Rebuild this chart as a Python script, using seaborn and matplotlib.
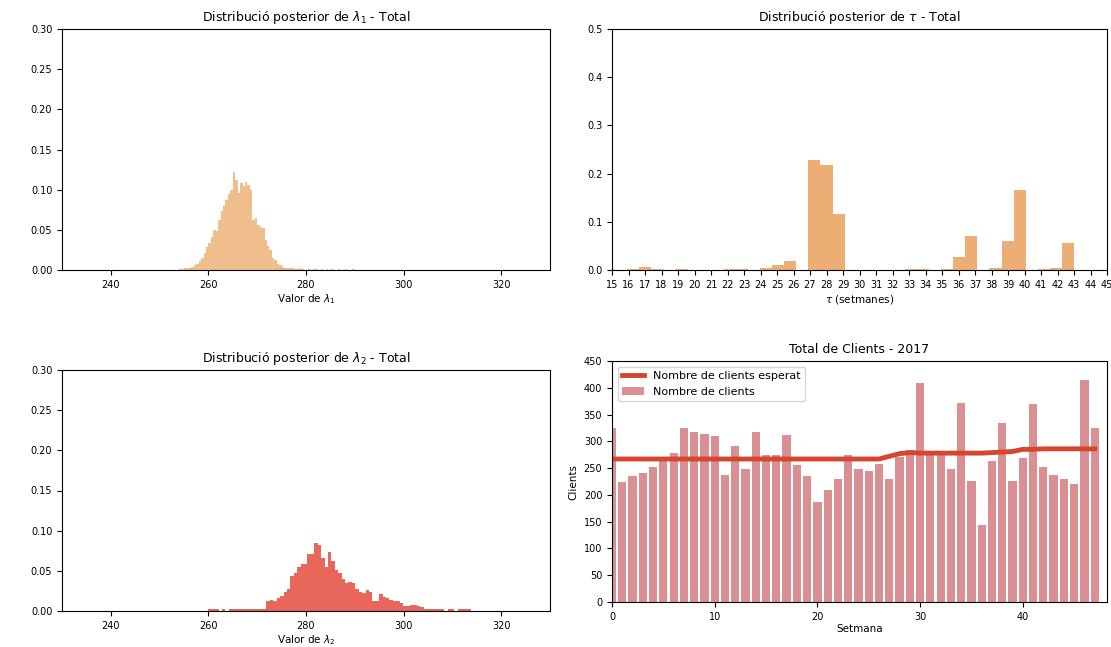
import numpy as np
import pandas as pd
import matplotlib
matplotlib.use("Agg")
import matplotlib.pyplot as plt
import seaborn as sns

# Posterior lambda_1 (densitat per bin, bins de 0.5 entre 254 i 290)
lambda1_range = (254, 290)
lambda1_dens = [0.001, 0.001, 0.002, 0.002, 0.003, 0.004, 0.006, 0.008, 0.011, 0.015,
                0.021, 0.029, 0.033, 0.041, 0.050, 0.048, 0.062, 0.073, 0.080, 0.087,
                0.095, 0.100, 0.122, 0.112, 0.096, 0.108, 0.104, 0.110, 0.106, 0.100,
                0.062, 0.065, 0.056, 0.054, 0.052, 0.037, 0.030, 0.025, 0.015, 0.012,
                0.008, 0.006, 0.004, 0.003, 0.002, 0.002, 0.002, 0.001, 0.001, 0.002,
                0.001, 0.000, 0.001, 0.001, 0.000, 0.001, 0.001, 0.000, 0.001, 0.000,
                0.001, 0.000, 0.001, 0.000, 0.000, 0.001, 0.000, 0.000, 0.001, 0.000,
                0.000, 0.001]

# Posterior lambda_2 (bins de 0.7 entre 260 i 314.6)
lambda2_range = (260, 314.6)
lambda2_dens = [0.002, 0.002, 0.002, 0.000, 0.002, 0.000, 0.002, 0.003, 0.003, 0.003,
                0.002, 0.003, 0.003, 0.003, 0.003, 0.002, 0.003, 0.013, 0.014, 0.013,
                0.016, 0.019, 0.024, 0.028, 0.043, 0.047, 0.055, 0.059, 0.059, 0.071,
                0.071, 0.085, 0.082, 0.066, 0.055, 0.074, 0.062, 0.051, 0.047, 0.040,
                0.035, 0.036, 0.035, 0.028, 0.024, 0.022, 0.026, 0.024, 0.012, 0.013,
                0.021, 0.018, 0.016, 0.014, 0.013, 0.012, 0.010, 0.006, 0.006, 0.007,
                0.007, 0.006, 0.005, 0.003, 0.003, 0.002, 0.002, 0.003, 0.002, 0.000,
                0.002, 0.002, 0.000, 0.002, 0.002, 0.002, 0.002, 0.000]

# Posterior tau (setmanes)
tau_weeks = list(range(15, 44))
tau_prob = [0.002, 0.002, 0.007, 0.002, 0.002, 0.000, 0.000, 0.002, 0.002, 0.004,
            0.010, 0.019, 0.228, 0.217, 0.117, 0.000, 0.000, 0.000, 0.002, 0.002,
            0.002, 0.028, 0.071, 0.004, 0.060, 0.165, 0.002, 0.004, 0.055]
tau_range = (13, 43)
tau_nbins = 41

# Clients per setmana 2017
weeks = list(range(48))
clients = [325, 225, 236, 241, 253, 265, 278, 325, 317, 313,
           310, 238, 291, 249, 317, 275, 275, 312, 255, 236,
           187, 209, 230, 274, 249, 245, 257, 230, 270, 284,
           408, 277, 277, 249, 371, 226, 143, 263, 334, 226,
           269, 369, 253, 238, 230, 220, 414, 324]
expected = [267] * 27 + [272, 277, 279, 278, 278, 278, 278, 278, 278, 278,
                         279, 280, 281, 285, 285, 286, 286, 286, 286, 286, 286]


def hist_from_density(ax, dens, rng, color):
    edges = np.linspace(rng[0], rng[1], len(dens) + 1)
    df = pd.DataFrame({"x": (edges[:-1] + edges[1:]) / 2, "w": dens})
    sns.histplot(data=df, x="x", weights="w", bins=len(dens), binrange=rng,
                 color=color, alpha=1, linewidth=0, ax=ax)


W, H = 1111, 647
fig = plt.figure(figsize=(W / 100, H / 100), dpi=100)

def box(l, t, r, b):
    return [l / W, 1 - b / H, (r - l) / W, (b - t) / H]

ax1 = fig.add_axes(box(62, 29, 550, 270))
ax2 = fig.add_axes(box(612, 29, 1107, 270))
ax3 = fig.add_axes(box(62, 370, 550, 611))
ax4 = fig.add_axes(box(612, 361, 1107, 602))

title_fs, label_fs, tick_fs = 9, 7.5, 7

# lambda_1
hist_from_density(ax1, lambda1_dens, lambda1_range, "#F0BD8D")
ax1.set_xlim(230, 330)
ax1.set_ylim(0, 0.30)
ax1.set_yticks(np.arange(0, 0.31, 0.05))
ax1.set_title(r"Distribució posterior de $\lambda_1$ - Total", fontsize=title_fs)
ax1.set_xlabel(r"Valor de $\lambda_1$", fontsize=label_fs, labelpad=2)
ax1.set_ylabel("")

# lambda_2
hist_from_density(ax3, lambda2_dens, lambda2_range, "#E8675A")
ax3.set_xlim(230, 330)
ax3.set_ylim(0, 0.30)
ax3.set_yticks(np.arange(0, 0.31, 0.05))
ax3.set_title(r"Distribució posterior de $\lambda_2$ - Total", fontsize=title_fs)
ax3.set_xlabel(r"Valor de $\lambda_2$", fontsize=label_fs, labelpad=1.5)
ax3.set_ylabel("")

# tau
tau_df = pd.DataFrame({"tau": tau_weeks, "p": tau_prob})
sns.histplot(data=tau_df, x="tau", weights="p", bins=tau_nbins, binrange=tau_range,
             color="#EDAE75", alpha=1, linewidth=0, ax=ax2)
ax2.set_xlim(15, 45)
ax2.set_xticks(range(15, 46))
ax2.set_ylim(0, 0.5)
ax2.set_title(r"Distribució posterior de $\tau$ - Total", fontsize=title_fs)
ax2.set_xlabel(r"$\tau$ (setmanes)", fontsize=label_fs, labelpad=2)
ax2.set_ylabel("")

# clients
sns.barplot(x=weeks, y=clients, native_scale=True, color="#DA8F93", saturation=1,
            width=0.8, label="Nombre de clients", ax=ax4)
sns.lineplot(x=weeks, y=expected, color="#D5462F", linewidth=3.5,
             label="Nombre de clients esperat", ax=ax4)
ax4.set_xlim(0, 48.2)
ax4.set_ylim(0, 450)
ax4.set_yticks(range(0, 451, 50))
ax4.set_xticks([0, 10, 20, 30, 40])
ax4.set_title("Total de Clients - 2017", fontsize=title_fs)
ax4.set_xlabel("Setmana", fontsize=label_fs, labelpad=2)
ax4.set_ylabel("Clients", fontsize=label_fs)
handles, labels = ax4.get_legend_handles_labels()
order = [labels.index("Nombre de clients esperat"), labels.index("Nombre de clients")]
ax4.legend([handles[i] for i in order], [labels[i] for i in order],
           loc="upper left", fontsize=8)

for ax in (ax1, ax2, ax3, ax4):
    ax.tick_params(labelsize=tick_fs)

fig.savefig("out.png", dpi=100)
